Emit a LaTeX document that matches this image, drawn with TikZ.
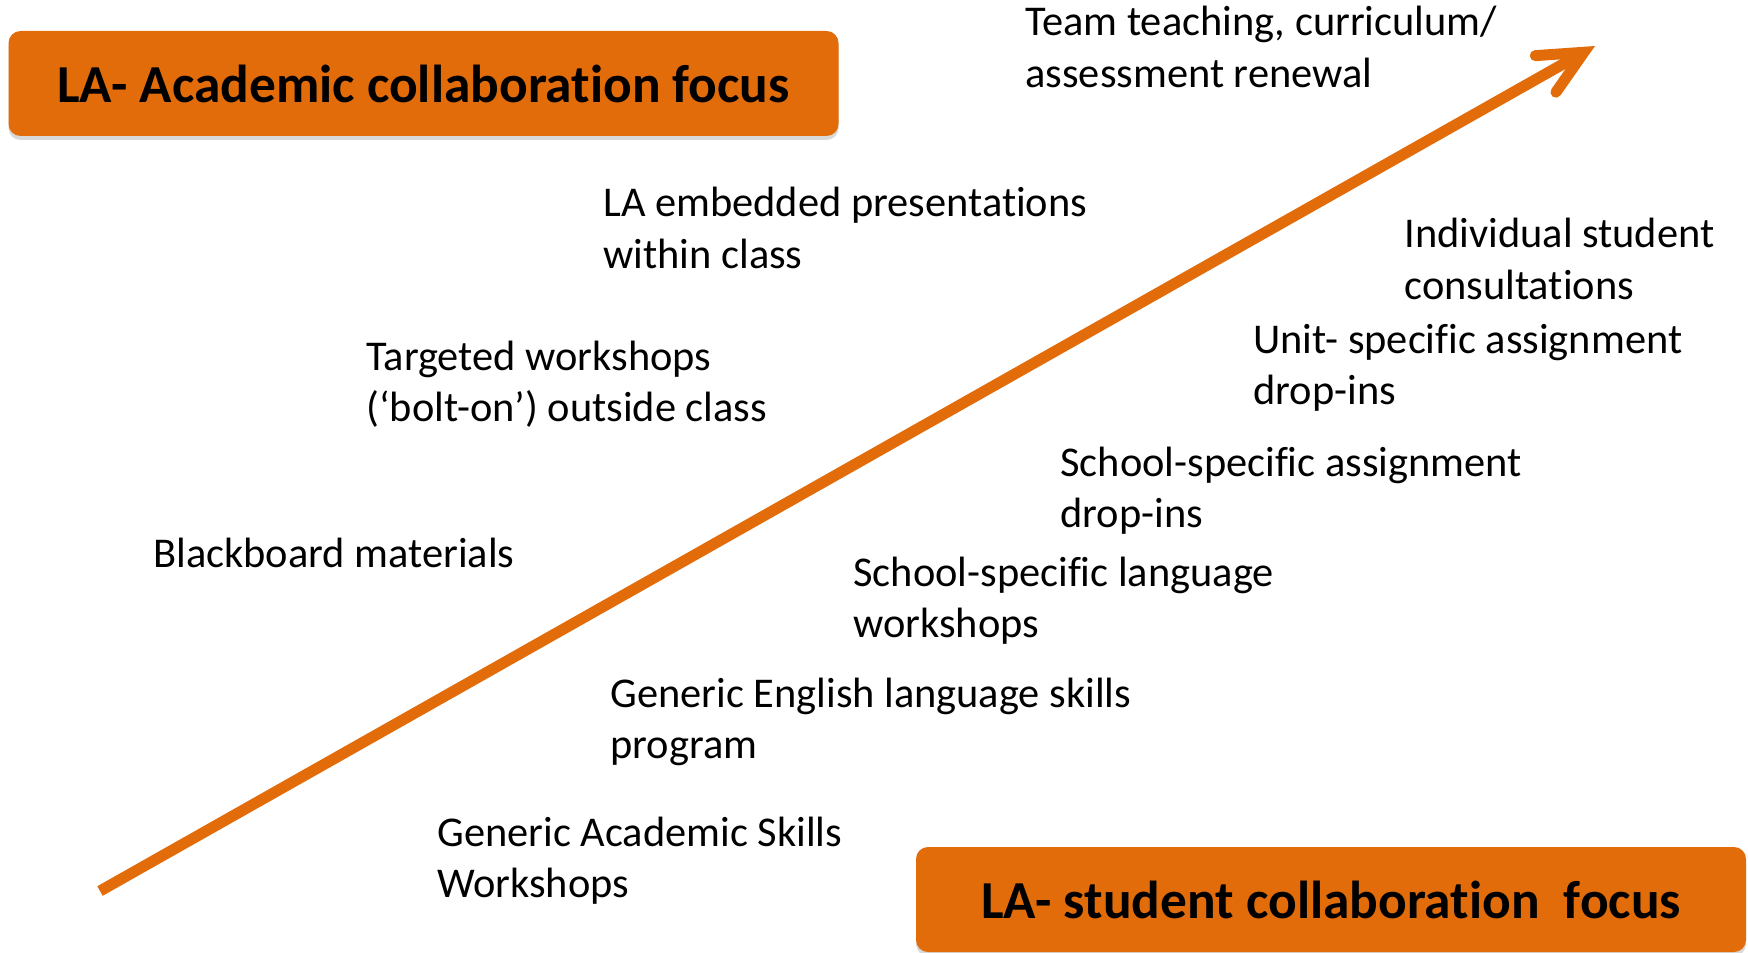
\documentclass[tikz,border=0pt]{standalone}
\usepackage{fontspec}
\setmainfont{Carlito}[Ligatures=NoCommon]
\usetikzlibrary{arrows.meta,shadows}
\definecolor{laorange}{RGB}{227,108,10}
\newcommand{\twolines}[1]{\begin{tabular}[t]{@{}l@{}}#1\end{tabular}}

\begin{document}
\begin{tikzpicture}[x=0.5pt,y=-0.5pt,
    focus/.style={fill=laorange, rounded corners=6pt, minimum width=415pt,
      minimum height=52.5pt, font=\fontsize{26.7pt}{32pt}\selectfont\bfseries,
      drop shadow={shadow xshift=0pt, shadow yshift=-2pt, opacity=0.3}},
    activity/.style={anchor=base west, inner sep=0pt,
      font=\fontsize{21.2pt}{25.7pt}\selectfont},
    trend/.style={draw=laorange, line width=5.5pt,
      -{Straight Barb[length=22pt,width=21pt,line cap=round,line join=miter]}}]
      \useasboundingbox (0,0) rectangle (1748,952);
      % the two focus boxes
      \node[focus] (academic) at (423.5,83.5) {LA- Academic collaboration focus};
      \node[focus] (student) at (1331,899.5) {LA- student collaboration\ \ focus};
      % rising arrow
      \coordinate (low) at (100,891);
      \coordinate (high) at (1595,46);
      \draw[trend] (low) -- (high);
      % activities
      \node[activity] (team) at (1025,36) {\twolines{Team teaching, curriculum/\\assessment renewal}};
      \node[activity] (embedded) at (603,217) {\twolines{LA embedded presentations\\within class}};
      \node[activity] (consult) at (1404,248) {\twolines{Individual student\\consultations}};
      \node[activity] (targeted) at (366,370) {\twolines{Targeted workshops\\(‘bolt-on’) outside class}};
      \node[activity] (unit) at (1253,353) {\twolines{Unit- specific assignment\\drop-ins}};
      \node[activity] (schoolassign) at (1060,476) {\twolines{School-specific assignment\\drop-ins}};
      \node[activity] (blackboard) at (153,567) {Blackboard materials};
      \node[activity] (schoollang) at (853,586) {\twolines{School-specific language\\workshops}};
      \node[activity] (genenglish) at (610,707) {\twolines{Generic English language skills\\program}};
      \node[activity] (genacademic) at (437,846) {\twolines{Generic Academic Skills\\Workshops}};
\end{tikzpicture}
\end{document}
